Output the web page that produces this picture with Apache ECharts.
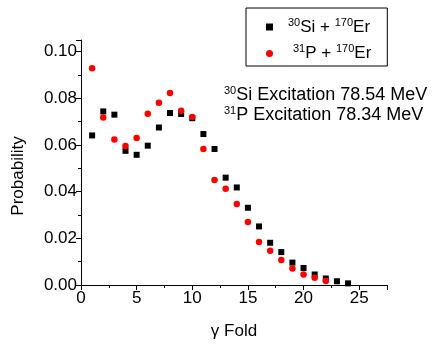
<!DOCTYPE html>
<html>
<head>
<meta charset="utf-8">
<script src="https://cdn.jsdelivr.net/npm/echarts@6/dist/echarts.min.js"></script>
<style>
  html, body { margin: 0; padding: 0; background: #fff; }
  #chart { width: 434px; height: 345px; }
</style>
</head>
<body>
<div id="chart"></div>
<script>
// gamma fold values
const foldSi = [1, 2, 3, 4, 5, 6, 7, 8, 9, 10, 11, 12, 13, 14, 15, 16, 17, 18, 19, 20, 21, 22, 23, 24];
const probSi = [0.0641, 0.0744, 0.0730, 0.0575, 0.0558, 0.0597, 0.0675, 0.0737, 0.0733, 0.0715, 0.0647, 0.0583,
  0.0460, 0.0418, 0.0331, 0.0251, 0.0181, 0.0141, 0.0096, 0.0073, 0.0045, 0.0028, 0.0016, 0.0007];
const foldP = [1, 2, 3, 4, 5, 6, 7, 8, 9, 10, 11, 12, 13, 14, 15, 16, 17, 18, 19, 20, 21, 22];
const probP = [0.0929, 0.0718, 0.0624, 0.0596, 0.0630, 0.0734, 0.0781, 0.0823, 0.0747, 0.0720, 0.0583, 0.0450,
  0.0412, 0.0347, 0.0270, 0.0184, 0.0147, 0.0107, 0.0071, 0.0045, 0.0031, 0.0017];

const FONT = "Liberation Sans";
const chart = echarts.init(document.getElementById("chart"));

const supStyle = { fontFamily: FONT, fontSize: 11, verticalAlign: "top", lineHeight: 11, color: "#000" };
const txtStyle = { fontFamily: FONT, fontSize: 17, lineHeight: 20, color: "#000" };
const noteStyle = { fontFamily: FONT, fontSize: 18, lineHeight: 20, color: "#000" };

chart.setOption({
  animation: false,
  backgroundColor: "#fff",
  grid: { left: 81, right: 47, top: 40, bottom: 57 },
  legend: {
    orient: "vertical",
    left: 246,
    top: 8,
    padding: [9, 16, 4, 20],
    itemGap: 8,
    itemWidth: 7,
    itemHeight: 7,
    borderColor: "#000",
    borderWidth: 1,
    borderRadius: 0,
    data: [
      { name: "Si", icon: "rect" },
      { name: "P", icon: "circle" },
    ],
    formatter: (name) =>
      name === "Si" ? "{pad|}{sup|30}{t|Si + }{sup|170}{t|Er}" : "{pad2|}{sup|31}{t|P + }{sup|170}{t|Er}",
    textStyle: {
      fontFamily: FONT,
      fontSize: 17,
      rich: { sup: supStyle, t: txtStyle, pad: { width: 10 }, pad2: { width: 15 } },
    },
  },
  xAxis: {
    type: "value",
    min: 0,
    max: 27.5,
    interval: 5,
    name: "γ Fold",
    nameLocation: "middle",
    nameGap: 38,
    nameTextStyle: { fontFamily: FONT, fontSize: 17, color: "#000" },
    axisLine: { lineStyle: { color: "#000", width: 1 } },
    axisTick: { length: 5, lineStyle: { color: "#000" } },
    minorTick: { show: true, splitNumber: 2, length: 3, lineStyle: { color: "#000" } },
    axisLabel: { fontFamily: FONT, fontSize: 17, color: "#000", margin: 5,
      formatter: (v) => (v % 5 === 0 ? String(v) : "") },
    splitLine: { show: false },
  },
  yAxis: {
    type: "value",
    min: 0,
    max: 0.105,
    interval: 0.02,
    axisLine: { show: true, lineStyle: { color: "#000", width: 1 } },
    axisTick: { show: true, length: 5, lineStyle: { color: "#000" } },
    minorTick: { show: true, splitNumber: 2, length: 3, lineStyle: { color: "#000" } },
    axisLabel: { fontFamily: FONT, fontSize: 17, color: "#000", margin: 4,
      formatter: (v) => (Math.abs(v * 50 - Math.round(v * 50)) < 1e-6 ? v.toFixed(2) : "") },
    splitLine: { show: false },
  },
  graphic: [
    {
      type: "text",
      x: 18,
      y: 176,
      rotation: Math.PI / 2,
      style: { text: "Probability", font: "17px " + FONT, fill: "#000", align: "center", verticalAlign: "middle" },
    },
    {
      type: "text",
      left: 224,
      top: 85,
      style: {
        text: "{sup|30}{t|Si Excitation 78.54 MeV}\n{sup|31}{t|P Excitation 78.34 MeV}",
        rich: { sup: supStyle, t: noteStyle },
      },
    },
  ],
  series: [
    {
      name: "Si",
      type: "scatter",
      symbol: "rect",
      symbolSize: 6,
      itemStyle: { color: "#000", opacity: 1 },
      data: foldSi.map((f, i) => [f, probSi[i]]),
    },
    {
      name: "P",
      type: "scatter",
      symbol: "circle",
      symbolSize: 6.5,
      itemStyle: { color: "#ff0000", opacity: 1 },
      data: foldP.map((f, i) => [f, probP[i]]),
    },
  ],
});
</script>
</body>
</html>
